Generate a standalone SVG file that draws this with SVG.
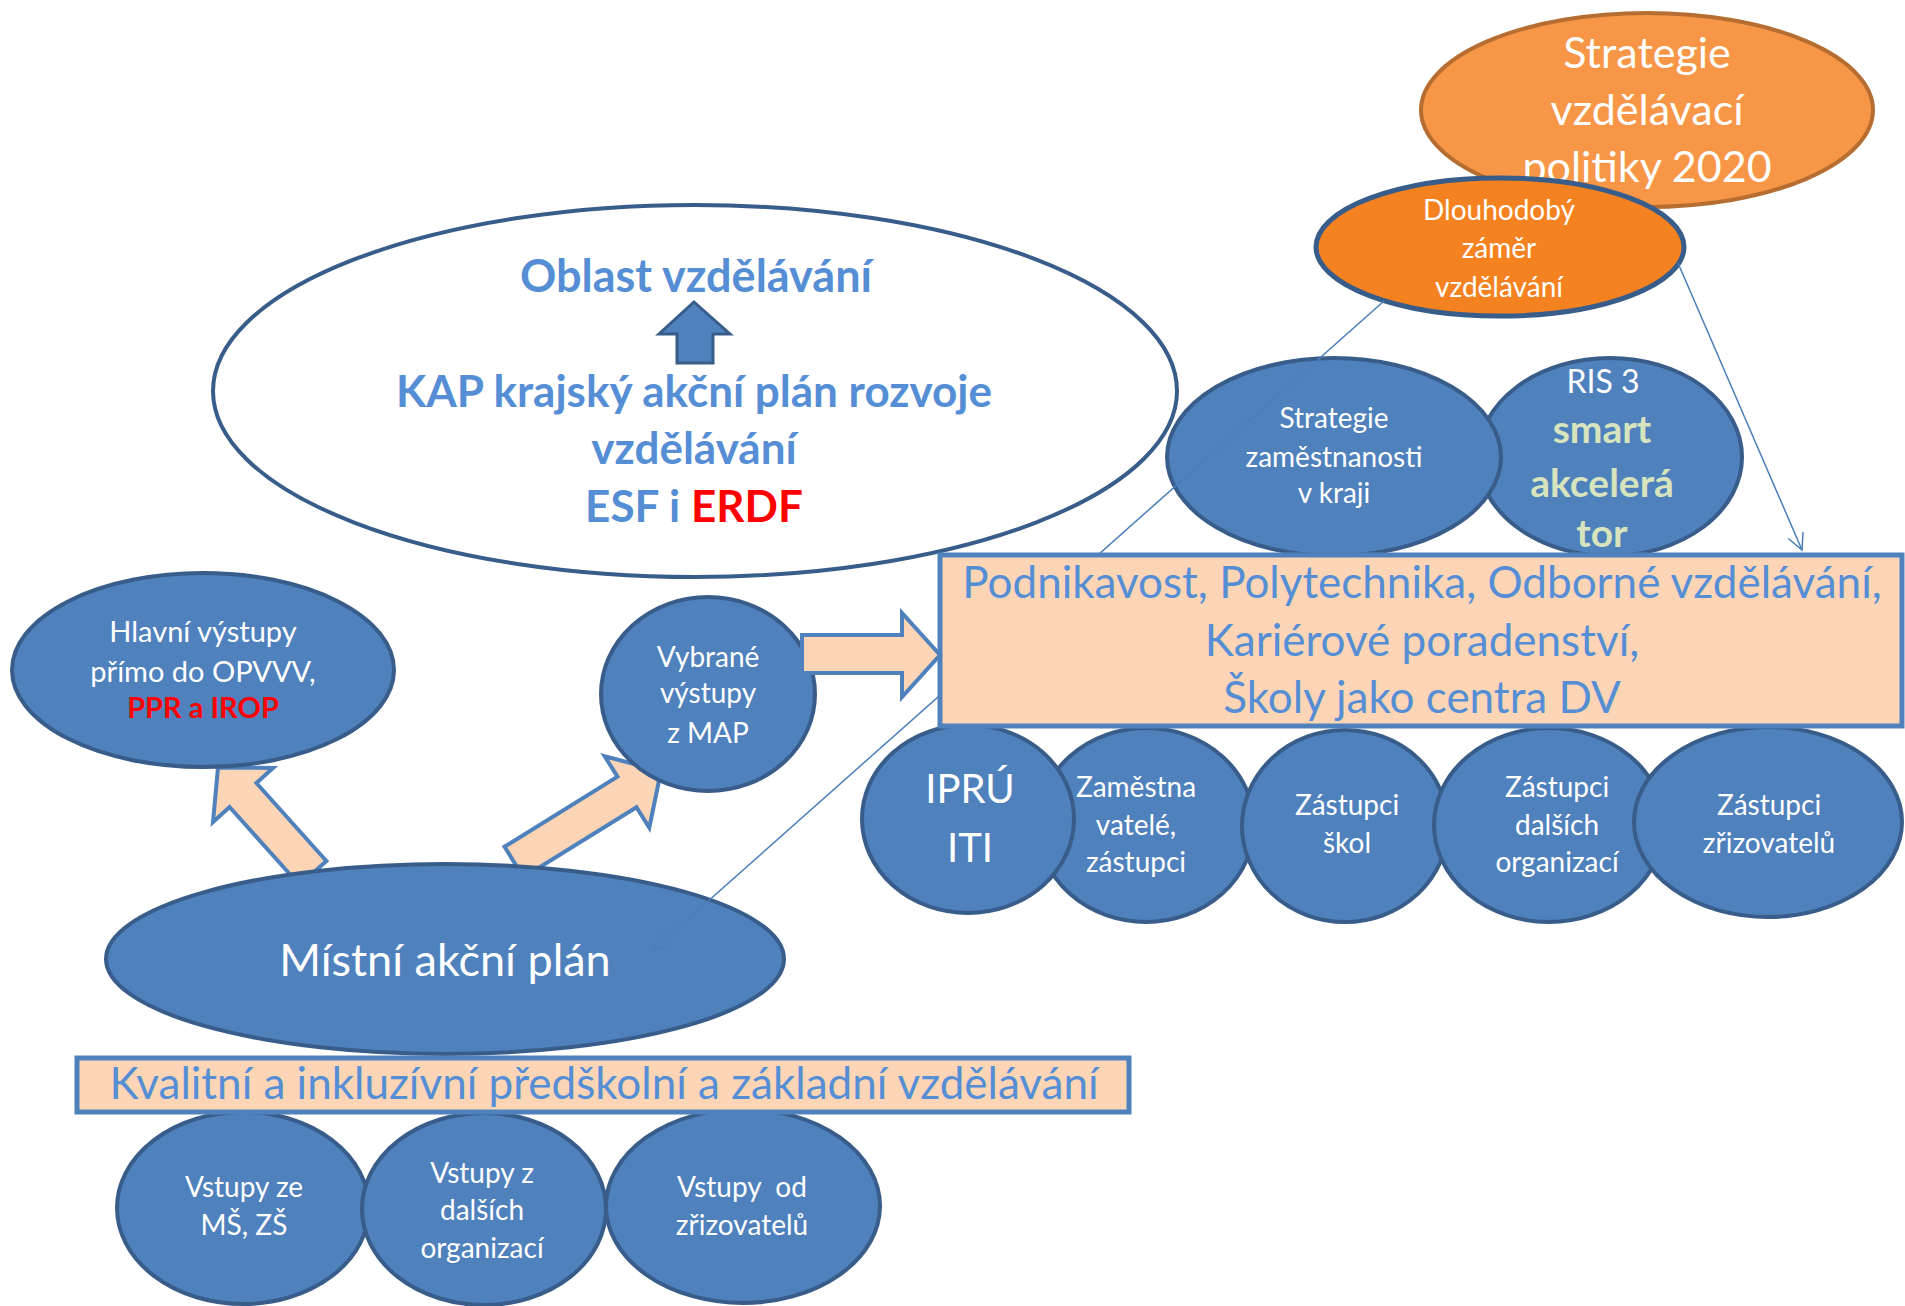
<svg xmlns="http://www.w3.org/2000/svg" width="1905" height="1306" viewBox="0 0 1905 1306">
<defs>
<style>
.t{font-family:Lato,"Open Sans","Liberation Sans",sans-serif;text-anchor:middle}
.w{fill:#FFFFFF}
.lb{fill:#558ED5}
.b{font-weight:bold}
.node{fill:#4F81BD;stroke:#385D8A;stroke-width:4}
.peach{fill:#FBD5B5;stroke:#4F81BD;stroke-width:5}
.parrow{fill:#FBD5B5;stroke:#4F81BD;stroke-width:4;stroke-linejoin:miter}
.conn{fill:none;stroke:#4A7EBB;stroke-width:1.5}
</style>
<marker id="open" viewBox="0 0 20 20" refX="18" refY="10" markerWidth="20" markerHeight="20" markerUnits="userSpaceOnUse" orient="auto">
<path d="M2,2 L18,10 L2,18" fill="none" stroke="#4A7EBB" stroke-width="1.5"/>
</marker>
</defs>
<rect width="1905" height="1306" fill="#FFFFFF"/>

<g id="strategie-vzdelavaci-politiky">
<ellipse cx="1647" cy="110" rx="226" ry="97" fill="#F79646" stroke="#B66D31" stroke-width="4"/>
<text class="t w" font-size="43"><tspan x="1647" y="68">Strategie</tspan><tspan x="1647" y="125">vzdělávací</tspan><tspan x="1647" y="182">politiky 2020</tspan></text>
</g>

<g id="dlouhodoby-zamer">
<ellipse cx="1500" cy="247" rx="184" ry="69" fill="#F58220" stroke="#385D8A" stroke-width="5"/>
<text class="t w" font-size="28"><tspan x="1499" y="220">Dlouhodobý</tspan><tspan x="1499" y="258">záměr</tspan><tspan x="1499" y="297">vzdělávání</tspan></text>
</g>

<g id="kap">
<ellipse cx="695" cy="391" rx="482" ry="186" fill="#FFFFFF" stroke="#385D8A" stroke-width="4"/>
<text class="t lb b" x="696" y="292" font-size="45">Oblast vzdělávání</text>
<polygon points="694,302 730,334 713,334 713,363 677,363 677,334 659,334" fill="#4F81BD" stroke="#385D8A" stroke-width="3"/>
<text class="t lb b" font-size="44"><tspan x="694" y="407">KAP krajský akční plán rozvoje</tspan><tspan x="694" y="464">vzdělávání</tspan><tspan x="694" y="522">ESF i <tspan fill="#FF0000">ERDF</tspan></tspan></text>
</g>

<g id="ris3">
<ellipse class="node" cx="1610" cy="457" rx="132" ry="99"/>
<text class="t w" x="1603" y="393" font-size="32">RIS 3</text>
<text class="t b" fill="#D7E4BD" font-size="39"><tspan x="1602" y="443">smart</tspan><tspan x="1602" y="497">akcelerá</tspan><tspan x="1602" y="547">tor</tspan></text>
</g>

<g id="strategie-zamestnanosti">
<ellipse class="node" cx="1334" cy="457" rx="167" ry="99"/>
<text class="t w" font-size="28"><tspan x="1334" y="428">Strategie</tspan><tspan x="1334" y="467">zaměstnanosti</tspan><tspan x="1334" y="503">v kraji</tspan></text>
</g>

<g id="zamestnavatele">
<ellipse class="node" cx="1146" cy="825" rx="108" ry="97"/>
<text class="t w" font-size="28"><tspan x="1136" y="797">Zaměstna</tspan><tspan x="1136" y="835">vatelé,</tspan><tspan x="1136" y="872">zástupci</tspan></text>
</g>

<g id="ipru-iti">
<ellipse class="node" cx="968" cy="819" rx="106" ry="94"/>
<text class="t w" font-size="40"><tspan x="970" y="803">IPRÚ</tspan><tspan x="970" y="862">ITI</tspan></text>
</g>

<g id="zastupci-skol">
<ellipse class="node" cx="1345" cy="826" rx="103" ry="96"/>
<text class="t w" font-size="28"><tspan x="1347" y="815">Zástupci</tspan><tspan x="1347" y="853">škol</tspan></text>
</g>

<g id="zastupci-dalsich">
<ellipse class="node" cx="1549" cy="825" rx="115" ry="97"/>
<text class="t w" font-size="28"><tspan x="1557" y="797">Zástupci</tspan><tspan x="1557" y="835">dalších</tspan><tspan x="1557" y="872">organizací</tspan></text>
</g>

<g id="zastupci-zrizovatelu">
<ellipse class="node" cx="1768" cy="822" rx="134" ry="95"/>
<text class="t w" font-size="28"><tspan x="1769" y="815">Zástupci</tspan><tspan x="1769" y="853">zřizovatelů</tspan></text>
</g>

<g id="arrows-up">
<polygon class="parrow" points="218,767.5 273,768 256.4,783 326.4,861 299.6,885 229.6,807 213,822"/>
<polygon class="parrow" points="661,771 649.3,827.7 636.5,807.3 523.5,877.3 504.5,846.7 617.5,776.7 604.7,756.3"/>
</g>

<g id="hlavni-vystupy">
<ellipse class="node" cx="203" cy="670" rx="191" ry="97"/>
<text class="t w" font-size="29"><tspan x="203" y="642">Hlavní výstupy</tspan><tspan x="203" y="682">přímo do OPVVV,</tspan><tspan x="203" y="718" fill="#FF0000" font-weight="bold">PPR a IROP</tspan></text>
</g>

<g id="vybrane-vystupy">
<ellipse class="node" cx="708" cy="694" rx="107" ry="97"/>
<text class="t w" font-size="28"><tspan x="708" y="667">Vybrané</tspan><tspan x="708" y="703">výstupy</tspan><tspan x="708" y="743">z MAP</tspan></text>
</g>

<g id="mistni-akcni-plan">
<ellipse class="node" cx="445" cy="959" rx="339" ry="95"/>
<text class="t w" x="445" y="976" font-size="45">Místní akční plán</text>
</g>

<g id="vstupy-ze-ms-zs">
<ellipse class="node" cx="243" cy="1208" rx="126" ry="96"/>
<text class="t w" font-size="28"><tspan x="244" y="1197">Vstupy ze</tspan><tspan x="244" y="1235">MŠ, ZŠ</tspan></text>
</g>

<g id="vstupy-z-dalsich">
<ellipse class="node" cx="484" cy="1209" rx="122" ry="96"/>
<text class="t w" font-size="28"><tspan x="482" y="1183">Vstupy z</tspan><tspan x="482" y="1220">dalších</tspan><tspan x="482" y="1258">organizací</tspan></text>
</g>

<g id="vstupy-od-zrizovatelu">
<ellipse class="node" cx="743" cy="1206" rx="137" ry="97"/>
<text class="t w" font-size="28" xml:space="preserve"><tspan x="742" y="1197">Vstupy  od</tspan><tspan x="742" y="1235">zřizovatelů</tspan></text>
</g>

<g id="kvalitni-vzdelavani">
<rect class="peach" x="77" y="1058" width="1052" height="54"/>
<text class="t lb" x="604" y="1099" font-size="44">Kvalitní a inkluzívní předškolní a základní vzdělávání</text>
</g>

<g id="connectors">
<line class="conn" x1="1384" y1="301" x2="653" y2="950" marker-end="url(#open)"/>
<line class="conn" x1="1678" y1="263" x2="1802" y2="550" marker-end="url(#open)"/>
</g>

<g id="podnikavost">
<rect class="peach" x="940" y="555" width="962" height="171"/>
<text class="t lb" font-size="44"><tspan x="1422" y="598">Podnikavost, Polytechnika, Odborné vzdělávání,</tspan><tspan x="1422" y="656">Kariérové poradenství,</tspan><tspan x="1422" y="713">Školy jako centra DV</tspan></text>
</g>

<g id="arrow-right">
<polygon class="parrow" points="802,635 902,635 902,613 940,655 902,697 902,673 802,673"/>
</g>
</svg>
